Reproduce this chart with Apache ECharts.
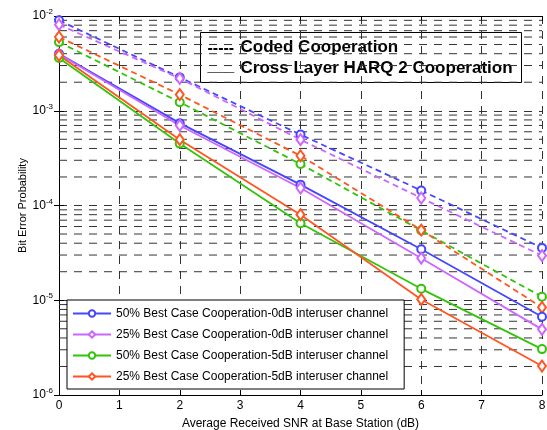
<!DOCTYPE html>
<html>
<head>
<meta charset="utf-8">
<script src="https://cdn.jsdelivr.net/npm/echarts@6/dist/echarts.min.js"></script>
<style>
  html, body { margin: 0; padding: 0; background: #fff; }
  #chart { width: 547px; height: 430px; }
</style>
</head>
<body>
<div id="chart"></div>
<script>
// SNR points (dB)
const snr = [0, 2, 4, 6, 8];

// Coded cooperation (dashed)
const coded50_0dB = [9.0e-3, 2.25e-3, 5.6e-4, 1.44e-4, 3.57e-5];
const coded25_0dB = [8.1e-3, 2.2e-3, 4.95e-4, 1.2e-4, 2.96e-5];
const coded50_5dB = [5.3e-3, 1.23e-3, 2.74e-4, 5.45e-5, 1.09e-5];
const coded25_5dB = [6.0e-3, 1.48e-3, 3.35e-4, 5.5e-5, 8.4e-6];

// Cross layer HARQ 2 cooperation (solid)
const harq50_0dB = [4.0e-3, 7.4e-4, 1.66e-4, 3.46e-5, 6.7e-6];
const harq25_0dB = [3.95e-3, 7.0e-4, 1.53e-4, 2.78e-5, 4.93e-6];
const harq50_5dB = [3.6e-3, 4.5e-4, 6.5e-5, 1.32e-5, 3.05e-6];
const harq25_5dB = [3.85e-3, 4.95e-4, 8.0e-5, 1.02e-5, 2.02e-6];

const legendNames = [
  '50% Best Case Cooperation-0dB interuser channel',
  '25% Best Case Cooperation-0dB interuser channel',
  '50% Best Case Cooperation-5dB interuser channel',
  '25% Best Case Cooperation-5dB interuser channel'
];
const keyLabels = ['Coded Cooperation', 'Cross Layer HARQ 2 Cooperation'];
const xTicks = [0, 1, 2, 3, 4, 5, 6, 7, 8];

const colors = ['#4646ff', '#cc66ff', '#33c40a', '#ff5522'];
const symbols = ['emptyCircle', 'emptyDiamond', 'emptyCircle', 'emptyDiamond'];
const symSizes = [8, [8, 11], 8, [8, 11]];

const font = 'Liberation Sans, Arial';
const gridDash = [8, 7];
const gridColor = '#333';

// log-decade minor grid values (2..9 x 10^k)
const minorGrid = [];
for (let k = -6; k <= -3; k++) {
  for (let m = 2; m <= 9; m++) minorGrid.push(m * Math.pow(10, k));
}

const pairs = (ys) => snr.map((x, i) => [x, ys[i]]);

function makeSeries(name, ys, idx, dashed) {
  return {
    name: name,
    type: 'line',
    data: pairs(ys),
    symbol: symbols[idx],
    symbolSize: symSizes[idx],
    showSymbol: true,
    z: dashed ? 3 : 4,
    lineStyle: { color: colors[idx], width: 1.8, type: dashed ? [6, 4] : 'solid' },
    itemStyle: { color: colors[idx], borderWidth: 1.5 },
    emphasis: { disabled: true }
  };
}

// minor horizontal grid lines, each a flat segment across the x range
const gridSeries = minorGrid.map((v, i) => ({
  name: 'minor-' + i,
  type: 'line',
  data: [[0, v], [8, v]],
  symbol: 'none',
  silent: true,
  z: 1,
  lineStyle: { type: gridDash, color: gridColor, width: 1 },
  emphasis: { disabled: true }
}));

const series = gridSeries.concat([
  makeSeries('coded-0', coded50_0dB, 0, true),
  makeSeries('coded-1', coded25_0dB, 1, true),
  makeSeries('coded-2', coded50_5dB, 2, true),
  makeSeries('coded-3', coded25_5dB, 3, true),
  makeSeries(legendNames[0], harq50_0dB, 0, false),
  makeSeries(legendNames[1], harq25_0dB, 1, false),
  makeSeries(legendNames[2], harq50_5dB, 2, false),
  makeSeries(legendNames[3], harq25_5dB, 3, false)
]);

const expLabel = (v) => {
  const e = Math.round(Math.log10(v));
  return '{b|10}{e|' + e + '}';
};

const chart = echarts.init(document.getElementById('chart'), null, { renderer: 'canvas' });
chart.setOption({
  animation: false,
  backgroundColor: '#fff',
  grid: { left: 59, right: 5, top: 16, bottom: 35, containLabel: false, outerBoundsMode: 'none' },
  xAxis: [{
    type: 'value', min: 0, max: 8, interval: 1,
    position: 'bottom',
    name: 'Average Received SNR at Base Station (dB)',
    nameLocation: 'middle', nameGap: 23, nameMoveOverlap: false,
    nameTextStyle: { fontFamily: font, fontSize: 12, color: '#000' },
    axisLine: { lineStyle: { color: '#000', width: 1 } },
    axisTick: { inside: true, length: 5, lineStyle: { color: '#000' } },
    axisLabel: { fontFamily: font, fontSize: 12, color: '#000', margin: 5,
      formatter: (v) => xTicks.includes(v) ? String(v) : '' },
    splitLine: { show: true, lineStyle: { type: gridDash, color: gridColor, width: 1 } }
  }, {
    type: 'value', min: 0, max: 8, interval: 1,
    position: 'top',
    axisLine: { lineStyle: { color: '#000', width: 1 } },
    axisTick: { inside: true, length: 5, lineStyle: { color: '#000' } },
    axisLabel: { show: false },
    splitLine: { show: false }
  }],
  yAxis: [{
    type: 'log', logBase: 10, min: 1e-6, max: 1e-2,
    position: 'left',
    name: 'Bit Error Probability',
    nameLocation: 'middle', nameGap: 31, nameMoveOverlap: false,
    nameTextStyle: { fontFamily: font, fontSize: 11, color: '#000' },
    axisLine: { show: true, lineStyle: { color: '#000', width: 1 } },
    axisTick: { inside: true, length: 5, lineStyle: { color: '#000' } },
    axisLabel: {
      margin: 6, formatter: expLabel,
      rich: {
        b: { fontFamily: font, fontSize: 12, color: '#000' },
        e: { fontFamily: font, fontSize: 8, color: '#000', verticalAlign: 'bottom', padding: [0, 0, 8, 0] }
      }
    },
    splitLine: { show: true, lineStyle: { type: gridDash, color: gridColor, width: 1 } }
  }, {
    type: 'log', logBase: 10, min: 1e-6, max: 1e-2,
    position: 'right',
    axisLine: { show: true, lineStyle: { color: '#000', width: 1 } },
    axisTick: { inside: true, length: 5, lineStyle: { color: '#000' } },
    axisLabel: { show: false },
    splitLine: { show: false }
  }],
  legend: {
    data: legendNames,
    orient: 'vertical',
    left: 67, top: 300,
    backgroundColor: '#fff',
    borderColor: '#000', borderWidth: 1, borderRadius: 0,
    padding: [7, 16, 6, 5],
    itemWidth: 38, itemHeight: 8, itemGap: 8,
    selectedMode: false,
    textStyle: { fontFamily: font, fontSize: 12, color: '#000', lineHeight: 13 }
  },
  graphic: [{
    type: 'group', left: 200, top: 32, z: 100,
    children: [{
      type: 'rect', shape: { x: 0, y: 0, width: 321, height: 50 },
      style: { fill: '#fff', stroke: '#000', lineWidth: 1 }
    }, {
      type: 'text', x: 7, y: 16,
      style: { text: '-----', font: 'bold 16px "Liberation Sans", Arial', fill: '#000', verticalAlign: 'middle' }
    }, {
      type: 'text', x: 40, y: 15,
      style: { text: keyLabels[0], font: 'bold 17px "Liberation Sans", Arial', fill: '#000', verticalAlign: 'middle' }
    }, {
      type: 'text', x: 7, y: 34,
      style: { text: '___', font: 'bold 16px "Liberation Sans", Arial', fill: '#000', verticalAlign: 'middle' }
    }, {
      type: 'text', x: 40, y: 36,
      style: { text: keyLabels[1], font: 'bold 17px "Liberation Sans", Arial', fill: '#000', verticalAlign: 'middle' }
    }]
  }],
  series: series
});
</script>
</body>
</html>
